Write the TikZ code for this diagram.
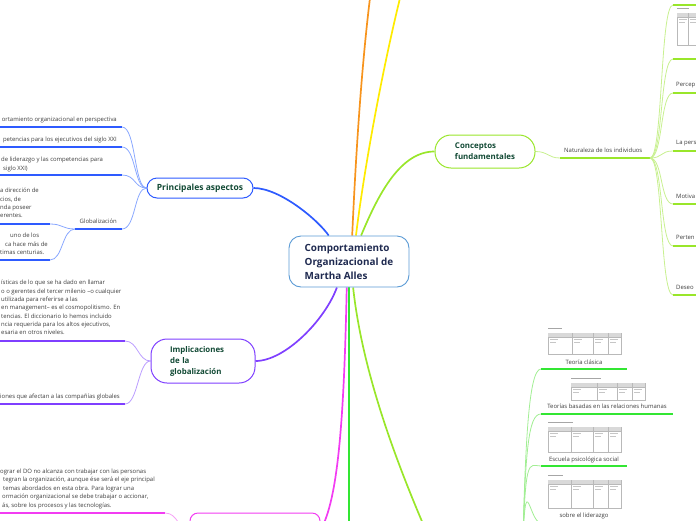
\documentclass[tikz,border=0pt]{standalone}
\usepackage{fontspec}
\setmainfont{Open Sans}
\usetikzlibrary{backgrounds}

\definecolor{rootblue}{HTML}{5B9BD5}
\definecolor{rootnavy}{HTML}{1F2A50}
\definecolor{topicgreen}{HTML}{124A35}
\definecolor{leafgray}{HTML}{3C3C3C}
\definecolor{blueB}{HTML}{2E5BFF}
\definecolor{blueL}{HTML}{8AA8FF}
\definecolor{purpleB}{HTML}{7F3FFF}
\definecolor{purpleL}{HTML}{BB9DFF}
\definecolor{magB}{HTML}{F23CF2}
\definecolor{magL}{HTML}{F6A3F6}
\definecolor{orangeB}{HTML}{F7941D}
\definecolor{yellowB}{HTML}{FFEB00}
\definecolor{limeB}{HTML}{99E62A}
\definecolor{limeL}{HTML}{C8F090}
\definecolor{greenB}{HTML}{33E633}
\definecolor{greenL}{HTML}{A2EE94}

% small table picture: x, y, width, height, column offsets, title length
\newcommand{\tablethumb}[6]{%
  \fill[gray!70] (#1,#2-5) rectangle ++(#6,1.2);
  \draw[gray!55, line width=0.4pt, fill=white] (#1,#2) rectangle ++(#3,#4);
  \fill[gray!30] (#1,#2) rectangle ++(#3,4);
  \draw[gray!55, line width=0.3pt] (#1,#2+4) -- ++(#3,0);
  \foreach \col in {#5} {\draw[gray!55, line width=0.3pt] (#1+\col,#2) -- ++(0,#4);}
  \foreach \col in {0,#5} {\draw[gray!45, line width=0.5pt] (#1+\col+2,#2+6.5) -- ++(8,0) (#1+\col+2,#2+9) -- ++(6,0);}
}

\begin{document}
\begin{tikzpicture}[x=1pt, y=-1pt,
    root/.style={draw=rootblue, line width=0.9pt, fill=white, rounded corners=12pt,
      minimum width=120pt, minimum height=51pt, align=left, text=rootnavy,
      font=\fontsize{9.9}{14}\selectfont\bfseries},
    topic/.style={fill=white, line width=1pt, align=left, text=topicgreen,
      font=\fontsize{7.9}{11}\selectfont\bfseries},
    leaf/.style={inner sep=0pt, text=leafgray, align=left,
      font=\fontsize{5.95}{8.35}\selectfont},
    trunk/.style={line width=1.7pt},
    twig/.style={line width=0.8pt},
    bar/.style={line width=2pt}]
    \useasboundingbox (0,0) rectangle (696,520);
    \clip (0,0) rectangle (696,520);

    % Centre and main topics:
    \node[root] (root) at (349,261.5) {Comportamiento\\Organizacional de\\Martha Alles};
    \node[topic, draw=blueB, rounded corners=10pt, minimum width=106pt, minimum height=20pt, font=\fontsize{8.5}{11}\selectfont\bfseries] (aspectos) at (200,188) {Principales aspectos};
    \node[topic, draw=purpleB, rounded corners=16pt, minimum width=104pt, minimum height=44pt, text width=66pt] (implic) at (203,361) {Implicaciones\\de la\\globalización};
    \node[topic, draw=limeB, rounded corners=16pt, minimum width=100pt, minimum height=33pt] (conceptos) at (485,151.5) {Conceptos\\fundamentales};
    \node[topic, draw=magB, rounded corners=8pt, minimum width=130pt, minimum height=34pt] (bottomtopic) at (255,530) {};
    \coordinate (toporange) at (371,-10);
    \coordinate (topyellow) at (402,-10);
    \coordinate (downgreen) at (349,560);
    \coordinate (downlime) at (430,540);

    % Principales aspectos:
    \node[leaf, anchor=base east] (persp) at (117,121.5) {ortamiento organizacional en perspectiva};
    \node[leaf, anchor=base east] (compet) at (117,141.5) {petencias para los ejecutivos del siglo XXI};
    \node[leaf, anchor=north west] (lider) at (1,157.1) {de liderazgo y las competencias para\\\hspace*{2pt}siglo XXI)};
    \node[leaf, anchor=base east] (glob) at (117,223) {Globalización};
    \node[leaf, anchor=north west] (glob1) at (0,188.1) {a dirección de\\cios, de\\nda poseer\\erentes.};
    \node[leaf, anchor=north west] (glob2) at (0,233.1) {\hspace*{10pt}uno de los\\\hspace*{5pt}ca hace más de\\timas centurias.};
    \coordinate (persp-l) at (-3,127);  \coordinate (persp-r) at (122,127);
    \coordinate (compet-l) at (-3,147); \coordinate (compet-r) at (122,147);
    \coordinate (lider-l) at (-3,175);  \coordinate (lider-r) at (122,175);
    \coordinate (glob-l) at (75,229);   \coordinate (glob-r) at (122,229);
    \coordinate (glob1-l) at (-3,224);  \coordinate (glob1-r) at (50,224);
    \coordinate (glob2-l) at (-3,260);  \coordinate (glob2-r) at (50,260);

    % Implicaciones de la globalizacion:
    \node[leaf, anchor=north west] (cosmo) at (1,280) {ísticas de lo que se ha dado en llamar\\o o gerentes del tercer milenio –o cualquier\\utilizada para referirse a las\\en management– es el cosmopolitismo. En\\tencias. El diccionario lo hemos incluido\\ncia requerida para los altos ejecutivos,\\esaria en otros niveles.};
    \node[leaf, anchor=base east] (companias) at (120,398.5) {iones que afectan a las compañías globales};
    \coordinate (cosmo-l) at (-3,341);     \coordinate (cosmo-r) at (125,341);
    \coordinate (companias-l) at (-3,404); \coordinate (companias-r) at (125,404);

    % Bottom topic:
    \node[leaf, anchor=north west, font=\fontsize{5.95}{8.5}\selectfont] (cambio) at (0,468.6) {ograr el DO no alcanza con trabajar con las personas\\\hspace*{3pt}tegran la organización, aunque ése será el eje principal\\\hspace*{3pt}temas abordados en esta obra. Para lograr una\\\hspace*{2pt}ormación organizacional se debe trabajar o accionar,\\\hspace*{2pt}ás, sobre los procesos y las tecnologías.};
    \coordinate (cambio-l) at (-3,513); \coordinate (cambio-r) at (165,513);

    % Conceptos fundamentales:
    \node[leaf, anchor=base west] (natur) at (564,152.5) {Naturaleza de los individuos};
    \coordinate (natur-l) at (560,158); \coordinate (natur-r) at (650,158);
    \node[leaf, anchor=base west] (percep) at (676,86.5) {Percep};
    \node[leaf, anchor=base west] (person) at (676,144.5) {La pers};
    \node[leaf, anchor=base west] (motiv) at (676,198.5) {Motiva};
    \node[leaf, anchor=base west] (perten) at (676,239) {Perten};
    \node[leaf, anchor=base west] (deseo) at (676,289) {Deseo};
    \tablethumb{677}{13}{30}{32}{11,24}{12}

    % Teorias (lower right):
    \coordinate (teorias) at (522,575);
    \tablethumb{548}{333}{73}{21}{24,45,60}{14}
    \node[leaf, anchor=base] (clasica) at (584,364.5) {Teoría clásica};
    \tablethumb{571}{383}{74}{17}{26,46,61}{30}
    \node[leaf, anchor=base] (humanas) at (607,408.5) {Teorías basadas en las relaciones humanas};
    \tablethumb{548}{427}{73}{25}{23,45,60}{25}
    \node[leaf, anchor=base] (psicosocial) at (584,461) {Escuela psicológica social};
    \tablethumb{548}{480}{73}{28}{23,45,60}{15}
    \node[leaf, anchor=base] (liderazgo) at (584,517) {sobre el liderazgo};

    \begin{scope}[on background layer]
        % trunks from the centre
        \draw[trunk, orangeB] (root.83) .. controls (356,150) and (362,60) .. (toporange);
        \draw[trunk, yellowB] (root.75) .. controls (364,170) and (382,70) .. (topyellow);
        \draw[trunk, limeB] (root.65) .. controls (378,195) and (400,151.5) .. (conceptos.west);
        \draw[trunk, blueB] (root.128) .. controls (318,220) and (280,188) .. (aspectos.east);
        \draw[trunk, purpleB] (root.245) .. controls (325,320) and (285,361) .. (implic.east);
        \draw[trunk, magB] (root.265) .. controls (344,420) and (338,500) .. (bottomtopic.east);
        \draw[trunk, greenB] (root.270) -- (downgreen);
        \draw[trunk, limeB] (root.279) .. controls (362,370) and (395,460) .. (downlime);

        % Principales aspectos
        \draw[twig, blueL] (aspectos.west) .. controls (134,188) and (136,127) .. (persp-r);
        \draw[twig, blueL] (aspectos.west) .. controls (134,188) and (136,147) .. (compet-r);
        \draw[twig, blueL] (aspectos.west) .. controls (134,188) and (136,175) .. (lider-r);
        \draw[twig, blueL] (aspectos.west) .. controls (134,188) and (136,229) .. (glob-r);
        \draw[twig, blueL] (glob-l) .. controls (62,229) and (63,224) .. (glob1-r);
        \draw[twig, blueL] (glob-l) .. controls (62,229) and (63,260) .. (glob2-r);
        \draw[bar, blueB] (persp-l) -- (persp-r);
        \draw[bar, blueB] (compet-l) -- (compet-r);
        \draw[bar, blueB] (lider-l) -- (lider-r);
        \draw[bar, blueB] (glob-l) -- (glob-r);
        \draw[bar, blueB] (glob1-l) -- (glob1-r);
        \draw[bar, blueB] (glob2-l) -- (glob2-r);

        % Implicaciones
        \draw[twig, purpleL] (implic.west) .. controls (138,361) and (138,341) .. (cosmo-r);
        \draw[twig, purpleL] (implic.west) .. controls (138,361) and (138,404) .. (companias-r);
        \draw[bar, purpleB] (cosmo-l) -- (cosmo-r);
        \draw[bar, purpleB] (companias-l) -- (companias-r);

        % bottom topic
        \draw[twig, magL] (bottomtopic.west) .. controls (178,530) and (178,513) .. (cambio-r);
        \draw[bar, magB] (cambio-l) -- (cambio-r);

        % Conceptos fundamentales
        \draw[twig, limeL] (conceptos.east) .. controls (548,151.5) and (548,158) .. (natur-l);
        \draw[bar, limeB] (natur-l) -- (natur-r);
        \foreach \y in {5,59,93,151,204,246,295} {
            \draw[twig, limeL] (natur-r) .. controls (663,158) and (660,\y) .. (673,\y);
            \draw[bar, limeB] (673,\y) -- (700,\y);
        }

        % Teorias
        \foreach \y/\len in {369/627,414/673,466/627,523/627} {
            \draw[twig, greenL] (teorias) .. controls (525,450) and (528,\y) .. (541,\y);
            \draw[bar, greenB] (541,\y) -- (\len,\y);
        }
    \end{scope}
\end{tikzpicture}
\end{document}
